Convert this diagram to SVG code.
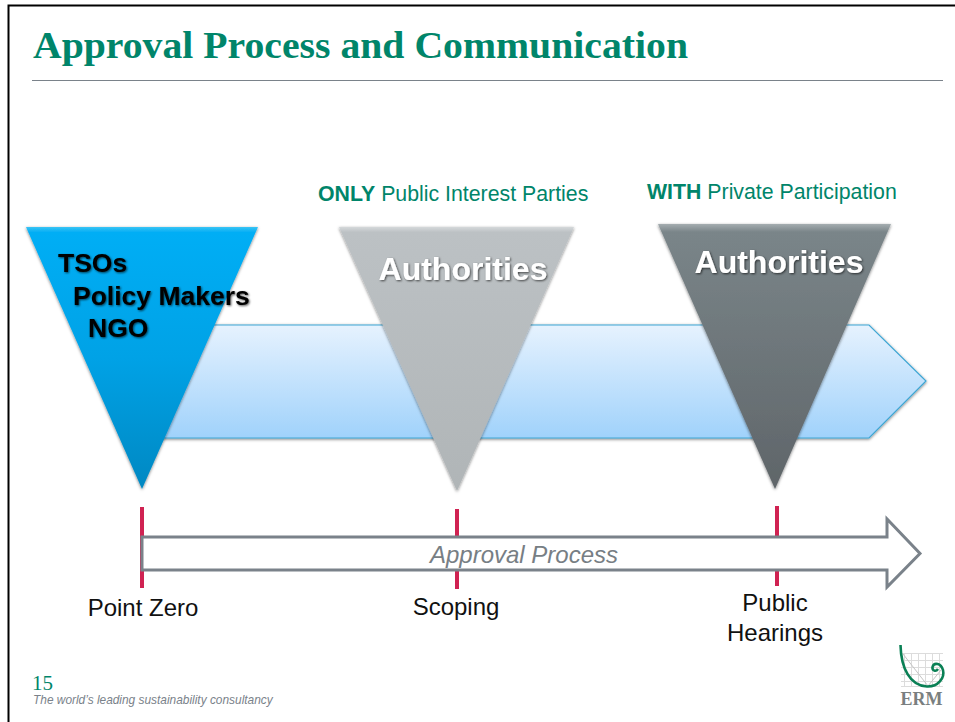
<svg xmlns="http://www.w3.org/2000/svg" width="955" height="722" viewBox="0 0 955 722">
<style>
.s{font-family:"Liberation Sans",Arial,sans-serif}
.t{font-size:24px;fill:#111}
.g{font-size:21.3px;fill:#00856a}
.h{font-size:32px;font-weight:bold}
.b{font-size:26.500px;font-weight:bold}
.k{fill:#000;filter:url(#ts)}
.w{fill:#fff;filter:url(#ts)}
.tick{stroke:#d02252;stroke-width:4;fill:none}
</style>
<defs>
<linearGradient id="blue" x1="0" y1="0" x2="0" y2="1"><stop offset="0" stop-color="#e6f2fe"/><stop offset="1" stop-color="#a0d2fb"/></linearGradient>
<linearGradient id="t1" x1="0" y1="0" x2="0" y2="1"><stop offset="0" stop-color="#3cc4f4"/><stop offset=".02" stop-color="#00aef5"/><stop offset=".5" stop-color="#00a2e6"/><stop offset="1" stop-color="#0088c2"/></linearGradient>
<linearGradient id="t2" x1="0" y1="0" x2="0" y2="1"><stop offset="0" stop-color="#d4d8da"/><stop offset=".02" stop-color="#bcc1c4"/><stop offset="1" stop-color="#b0b5b7"/></linearGradient>
<linearGradient id="t3" x1="0" y1="0" x2="0" y2="1"><stop offset="0" stop-color="#a5adb0"/><stop offset=".03" stop-color="#7a8589"/><stop offset="1" stop-color="#5f6569"/></linearGradient>
<filter id="sh" x="-10%" y="-10%" width="120%" height="120%"><feDropShadow dx="0" dy="1" stdDeviation="1.500" flood-color="#000" flood-opacity=".5"/></filter>
<filter id="ts" x="-10%" y="-20%" width="120%" height="140%"><feDropShadow dx="1" dy="1" stdDeviation="1" flood-color="#000" flood-opacity=".65"/></filter>
</defs>
<rect width="955" height="722" fill="#fff"/>
<path d="M8.500 722V5.500H955" fill="none" stroke="#000" stroke-width="2"/>
<text x="33" y="58" font-family="'Liberation Serif',serif" font-weight="bold" font-size="37.500" fill="#00856a" textLength="655" lengthAdjust="spacingAndGlyphs">Approval Process and Communication</text>
<path d="M32 80.500H943" stroke="#7a828a" stroke-width="1"/>
<g id="banner"><path d="M150 325H869L926 381L869 438H150Z" fill="url(#blue)" stroke="#3ea6d4" stroke-width="1.200" filter="url(#sh)"/></g>
<g id="node-tsos">
<path d="M26 227H258L142 489Z" fill="url(#t1)" filter="url(#sh)"/>
<text class="s b k" x="58" y="272">TSOs</text>
<text class="s b k" x="73" y="305">Policy Makers</text>
<text class="s b k" x="88" y="337">NGO</text>
</g>
<g id="node-authorities-1">
<path d="M339 227H574L457 491Z" fill="url(#t2)" filter="url(#sh)"/>
<text class="s h w" x="463" y="280" text-anchor="middle">Authorities</text>
</g>
<g id="node-authorities-2">
<path d="M658 224H891L775 489Z" fill="url(#t3)" filter="url(#sh)"/>
<text class="s h w" x="779" y="273" text-anchor="middle">Authorities</text>
</g>
<text class="s g" x="318" y="201"><tspan font-weight="bold">ONLY</tspan> Public Interest Parties</text>
<text class="s g" x="647" y="199"><tspan font-weight="bold">WITH</tspan> Private Participation</text>
<g id="connectors">
<path class="tick" d="M142 507V588M457 509V589M777 506V586"/>
</g>
<g id="approval-arrow">
<path d="M142 537H887V519L920 553.500L887 587V570H142Z" fill="#fff" stroke="#7a828a" stroke-width="3"/>
<text class="s" x="524" y="563" font-size="24" font-style="italic" fill="#777e84" text-anchor="middle">Approval Process</text>
</g>
<g id="label-point-zero"><text class="s t" x="143" y="616" text-anchor="middle">Point Zero</text></g>
<g id="label-scoping"><text class="s t" x="456" y="615" text-anchor="middle">Scoping</text></g>
<g id="label-public-hearings"><text class="s t" x="775" y="611" text-anchor="middle">Public</text><text class="s t" x="775" y="641" text-anchor="middle">Hearings</text></g>
<text x="32" y="690" font-family="'Liberation Serif',serif" font-size="21" fill="#00856a">15</text>
<text class="s" x="33" y="704" font-size="11.900" font-style="italic" fill="#7a828a">The world’s leading sustainability consultancy</text>
<g id="erm-logo">
<path d="M901 653.500H943M901 660.500H943M901 667.500H943M901 674.500H943M901 681.500H943M901 686.500H943M904.500 653V687M911.500 653V687M918.500 653V687M925.500 653V687M932.500 653V687M939.500 653V687" stroke="#dcdcdc" stroke-width="1" fill="none"/>
<path d="M903 654L928 686L941 670" stroke="#c4c4c4" stroke-width="1" fill="none"/>
<path d="M900.500 645C901 668 910 686 927 686.500C938 687 945 678 943 670C941 663 934 662 932.500 667C932 671 936 672 938 669" stroke="#0a8055" stroke-width="2.600" fill="none"/>
<text x="921.500" y="705" font-family="'Liberation Serif',serif" font-weight="bold" font-size="18" fill="#7a7f80" text-anchor="middle">ERM</text>
</g>
</svg>
